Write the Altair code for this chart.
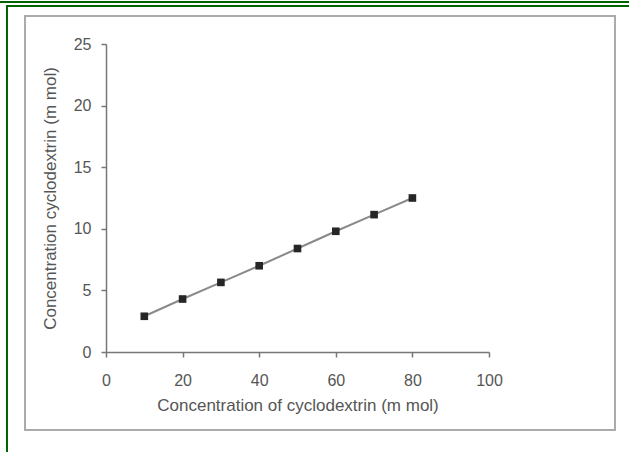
import altair as alt
import pandas as pd

# data
conc_x = [10, 20, 30, 40, 50, 60, 70, 80]
conc_y = [2.9, 4.3, 5.65, 7.0, 8.4, 9.8, 11.15, 12.5]
x_ticks = [0, 20, 40, 60, 80, 100]
y_ticks = [0, 5, 10, 15, 20, 25]

df = pd.DataFrame({"x": conc_x, "y": conc_y})
one = pd.DataFrame({"a": [0]})

FONT = "Liberation Sans"
PL, PT = 106, 44

xenc = alt.X("x:Q", scale=alt.Scale(domain=[0, 100], nice=False),
             axis=alt.Axis(values=x_ticks, title="Concentration of cyclodextrin (m mol)",
                           titlePadding=9, labelPadding=15, labelFlush=False))
yenc = alt.Y("y:Q", scale=alt.Scale(domain=[0, 25], nice=False),
             axis=alt.Axis(values=y_ticks, title="Concentration cyclodextrin (m mol)",
                           titlePadding=14, labelPadding=10, labelFlush=False))

line = alt.Chart(df).mark_line(color="#8a8a8a", strokeWidth=2).encode(x=xenc, y=yenc)
pts = alt.Chart(df).mark_square(color="#262626", size=58, opacity=1).encode(x="x:Q", y="y:Q")

frame = alt.Chart(one).mark_rect(fill=None, stroke="#ababab", strokeWidth=2).encode(
    x=alt.value(25 - PL), x2=alt.value(615 - PL),
    y=alt.value(16 - PT), y2=alt.value(430 - PT))

g1 = alt.Chart(one).mark_rule(color="#006400", strokeWidth=2).encode(
    x=alt.value(0 - PL), x2=alt.value(629 - PL), y=alt.value(2 - PT))
g2 = alt.Chart(one).mark_rule(color="#006400", strokeWidth=2).encode(
    x=alt.value(6 - PL), x2=alt.value(629 - PL), y=alt.value(6 - PT))
g3 = alt.Chart(one).mark_rule(color="#006400", strokeWidth=2).encode(
    x=alt.value(7 - PL), y=alt.value(5 - PT), y2=alt.value(452 - PT))

chart = alt.layer(frame, g1, g2, g3, line, pts).properties(
    width=383, height=308,
    autosize=alt.AutoSizeParams(type="none"),
    padding={"left": PL, "top": PT, "right": 629 - PL - 383, "bottom": 452 - PT - 308},
    background="white",
).configure_view(stroke=None).configure_axis(
    grid=False, domainColor="#777777", tickColor="#777777", tickSize=5,
    labelColor="#555555", labelFont=FONT, labelFontSize=16,
    titleColor="#555555", titleFont=FONT, titleFontSize=17, titleFontWeight="normal",
    domainWidth=1.5, tickWidth=1.5,
)

chart.save("out.html", embed_options={"renderer": "svg", "actions": False})
